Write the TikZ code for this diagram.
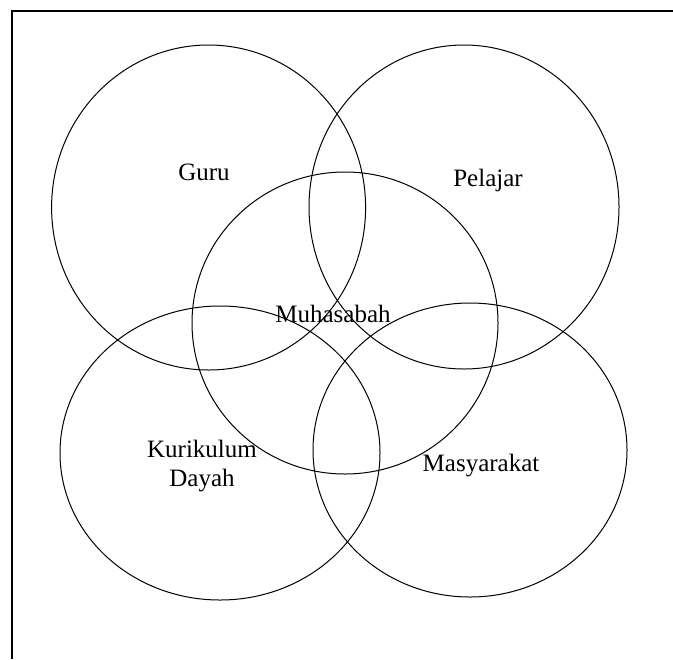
\documentclass[tikz,border=0pt]{standalone}
\usepackage{fontspec}
\setmainfont{Liberation Serif}
\usetikzlibrary{shapes.geometric}

\begin{document}
\begin{tikzpicture}[x=0.5pt,y=-0.5pt]

\def\labfont{\fontsize{12.5}{14.5}\selectfont}

\useasboundingbox (0,0) rectangle (673,659);

% frame (top and left only)
\coordinate (corner) at (12,11);
\coordinate (topend) at (673,11);
\coordinate (leftend) at (12,659);
\draw[line width=1pt] (topend) -- (corner) -- (leftend);

\node[draw,ellipse,line width=0.5pt,inner sep=0pt,minimum width=157pt,minimum height=162.5pt](guru) at (208.6,207.5) {};
\node[draw,ellipse,line width=0.5pt,inner sep=0pt,minimum width=155pt,minimum height=162pt](pelajar) at (464,207) {};
\node[draw,ellipse,line width=0.5pt,inner sep=0pt,minimum width=153pt,minimum height=151pt](muhasabah) at (345,323) {};
\node[draw,ellipse,line width=0.5pt,inner sep=0pt,minimum width=160pt,minimum height=147pt](kurikulum) at (220,453) {};
\node[draw,ellipse,line width=0.5pt,inner sep=0pt,minimum width=157pt,minimum height=147pt](masyarakat) at (470,450) {};

\node[font=\labfont,anchor=center](guruText) at (204,172) {Guru};
\node[font=\labfont,anchor=center](pelajarText) at (488,180) {Pelajar};
\node[font=\labfont,anchor=center](muhasabahText) at (333,314) {Muhasabah};
\node[font=\labfont,anchor=center,align=center](kurikulumText) at (202,466) {Kurikulum\\Dayah};
\node[font=\labfont,anchor=center](masyarakatText) at (481,466) {Masyarakat};

\end{tikzpicture}
\end{document}
